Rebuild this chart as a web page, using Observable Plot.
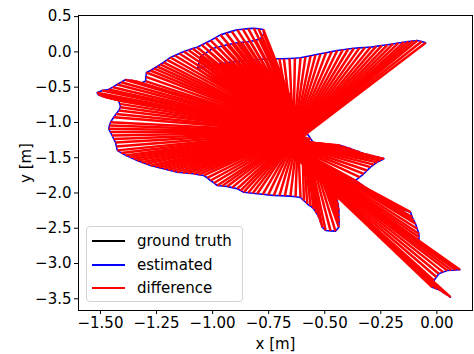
<!DOCTYPE html>
<html><head><meta charset="utf-8">
<script src="https://cdn.jsdelivr.net/npm/d3@7"></script>
<script src="https://cdn.jsdelivr.net/npm/@observablehq/plot@0.6"></script>
<style>
body{margin:0;background:#fff;}
#wrap{position:relative;width:474px;height:354px;font-family:"DejaVu Sans",sans-serif;}
#legend{position:absolute;left:86px;top:226px;width:157px;height:76px;border:1px solid #d4d4d4;border-radius:4px;background:rgba(255,255,255,0.8);box-sizing:border-box;font-size:15px;color:#000;}
.item{position:absolute;left:5px;height:20px;display:flex;align-items:center;white-space:nowrap;}
.sw{width:33px;height:0;border-top:2px solid;margin-right:12px;}
</style></head><body><div id="wrap"></div>
<script>
const x_ticks = [-1.5, -1.25, -1.0, -0.75, -0.5, -0.25, 0.0];
const y_ticks = [0.5, 0.0, -0.5, -1.0, -1.5, -2.0, -2.5, -3.0, -3.5];
const series_names = ["ground truth", "estimated", "difference"];
const series_colors = ["black", "blue", "red"];

// estimated trajectory, by stretch
const estA_x = [-0.050,-0.068,-0.087,-0.107,-0.127,-0.147,-0.172,-0.196,-0.221,-0.246,-0.271,-0.296,-0.321,-0.345,-0.370,-0.395,-0.419,-0.444,-0.469,-0.494,-0.519,-0.541,-0.563,-0.586,-0.608,-0.633,-0.657,-0.682,-0.702,-0.722,-0.742,-0.763,-0.783,-0.804,-0.825,-0.846,-0.871,-0.895,-0.920,-0.942,-0.964,-0.987,-1.009,-1.028,-1.048,-1.067];
const estA_y = [0.129,0.148,0.162,0.155,0.146,0.137,0.125,0.113,0.101,0.090,0.078,0.067,0.062,0.057,0.052,0.041,0.031,0.020,0.004,-0.011,-0.027,-0.041,-0.055,-0.070,-0.084,-0.089,-0.093,-0.098,-0.098,-0.098,-0.098,-0.101,-0.105,-0.108,-0.115,-0.122,-0.130,-0.138,-0.146,-0.158,-0.170,-0.181,-0.193,-0.207,-0.221,-0.235];
const estB_x = [-1.063,-1.058,-1.054,-1.036,-1.018,-1.000,-0.978,-0.957,-0.935,-0.912,-0.890,-0.870,-0.850,-0.831,-0.808,-0.786,-0.772,-0.774,-0.795,-0.816,-0.841,-0.865,-0.890,-0.915,-0.940,-0.965,-0.987,-1.009,-1.029,-1.049,-1.069,-1.089,-1.108,-1.128,-1.148,-1.168,-1.188,-1.203,-1.219,-1.233,-1.247,-1.262,-1.277,-1.295];
const estB_y = [-0.178,-0.121,-0.065,-0.027,0.010,0.048,0.066,0.083,0.101,0.115,0.129,0.135,0.141,0.147,0.167,0.186,0.257,0.318,0.329,0.336,0.330,0.322,0.313,0.291,0.266,0.242,0.202,0.162,0.130,0.099,0.067,0.047,0.026,0.006,-0.022,-0.051,-0.079,-0.114,-0.150,-0.178,-0.207,-0.235,-0.264,-0.292];
const estC_x = [-1.297,-1.299,-1.322,-1.344,-1.366,-1.389,-1.408,-1.426,-1.445,-1.464,-1.492,-1.515,-1.509,-1.494,-1.478,-1.458,-1.439,-1.420,-1.414,-1.411,-1.418,-1.430,-1.441,-1.455,-1.460,-1.463,-1.456,-1.448,-1.441,-1.433,-1.429,-1.425,-1.407,-1.388,-1.370,-1.353,-1.336,-1.316,-1.297,-1.277,-1.257,-1.238,-1.218,-1.198,-1.178,-1.158,-1.133,-1.109,-1.084,-1.062,-1.039,-1.024,-1.009,-0.994,-0.979,-0.957,-0.935,-0.913,-0.890,-0.875,-0.861,-0.841,-0.821,-0.801,-0.776,-0.752,-0.727,-0.702,-0.678,-0.653,-0.630,-0.608];
const estC_y = [-0.354,-0.415,-0.444,-0.415,-0.402,-0.395,-0.431,-0.462,-0.500,-0.533,-0.547,-0.580,-0.608,-0.626,-0.642,-0.657,-0.673,-0.689,-0.737,-0.784,-0.831,-0.879,-0.926,-0.996,-1.043,-1.090,-1.137,-1.185,-1.234,-1.284,-1.340,-1.396,-1.432,-1.467,-1.490,-1.515,-1.539,-1.563,-1.587,-1.610,-1.626,-1.641,-1.657,-1.673,-1.689,-1.705,-1.713,-1.720,-1.728,-1.740,-1.752,-1.787,-1.823,-1.858,-1.894,-1.901,-1.908,-1.924,-1.940,-1.965,-1.989,-1.996,-2.004,-2.011,-2.019,-2.027,-2.035,-2.038,-2.041,-2.045,-2.054,-2.064];
const estD_x = [-0.593,-0.578,-0.563,-0.549,-0.537,-0.526,-0.518,-0.511,-0.496,-0.474,-0.452,-0.437,-0.436,-0.437,-0.437,-0.440,-0.444,-0.459];
const estD_y = [-2.108,-2.153,-2.188,-2.224,-2.283,-2.343,-2.414,-2.485,-2.532,-2.537,-2.541,-2.485,-2.406,-2.327,-2.248,-2.177,-2.106,-2.035];
const estE_x = [-0.578,-0.563,-0.549,-0.526,-0.504,-0.479,-0.455,-0.430,-0.407,-0.385,-0.365,-0.345,-0.326,-0.303,-0.281,-0.258,-0.236,-0.251,-0.266,-0.281,-0.296,-0.311,-0.326,-0.344,-0.363];
const estE_y = [-1.161,-1.232,-1.294,-1.304,-1.313,-1.318,-1.322,-1.327,-1.350,-1.373,-1.397,-1.420,-1.444,-1.462,-1.480,-1.497,-1.515,-1.539,-1.563,-1.598,-1.634,-1.681,-1.728,-1.775,-1.823];
const estF_x = [-0.345,-0.328,-0.310,-0.292,-0.274,-0.257,-0.239,-0.221,-0.201,-0.182,-0.162,-0.140,-0.117,-0.110,-0.103,-0.095,-0.088,-0.080,-0.080,-0.080,-0.062,-0.043,-0.023,-0.003,0.017,0.037,0.056,0.076,0.090,0.103,0.084,0.065,0.046,0.028,0.009,-0.002,-0.013,-0.017,-0.021,-0.002,0.017,0.032,0.046,0.061];
const estF_y = [-1.862,-1.901,-1.940,-1.983,-2.025,-2.068,-2.110,-2.153,-2.177,-2.201,-2.224,-2.248,-2.272,-2.343,-2.390,-2.437,-2.508,-2.578,-2.625,-2.673,-2.732,-2.791,-2.838,-2.885,-2.933,-2.973,-3.012,-3.052,-3.070,-3.089,-3.092,-3.096,-3.099,-3.122,-3.145,-3.192,-3.240,-3.288,-3.335,-3.358,-3.382,-3.414,-3.445,-3.477];

// ground truth (hidden under the difference lines, estimated from where they meet)
const gtA_x = [-0.665,-0.664,-0.663,-0.662,-0.661,-0.660,-0.659,-0.658,-0.657,-0.656,-0.655,-0.654,-0.653,-0.652,-0.651,-0.650,-0.649,-0.648,-0.647,-0.646,-0.645,-0.644,-0.643,-0.642,-0.641,-0.640,-0.639,-0.638,-0.637,-0.636,-0.635,-0.634,-0.633,-0.632,-0.631,-0.630,-0.629,-0.628,-0.627,-0.626,-0.625,-0.624,-0.623,-0.622,-0.621,-0.620];
const gtA_y = [-1.360,-1.357,-1.354,-1.351,-1.348,-1.345,-1.342,-1.339,-1.336,-1.333,-1.330,-1.327,-1.324,-1.321,-1.318,-1.315,-1.312,-1.309,-1.306,-1.303,-1.300,-1.297,-1.294,-1.291,-1.288,-1.285,-1.282,-1.279,-1.276,-1.273,-1.270,-1.267,-1.264,-1.261,-1.258,-1.255,-1.252,-1.249,-1.246,-1.243,-1.240,-1.237,-1.234,-1.231,-1.228,-1.225];
const gtB_x = [-0.615,-0.614,-0.613,-0.612,-0.611,-0.610,-0.609,-0.608,-0.607,-0.606,-0.605,-0.604,-0.603,-0.602,-0.601,-0.600,-0.600,-0.600,-0.601,-0.602,-0.603,-0.604,-0.605,-0.606,-0.607,-0.608,-0.609,-0.610,-0.611,-0.612,-0.613,-0.614,-0.615,-0.616,-0.617,-0.618,-0.619,-0.620,-0.621,-0.622,-0.623,-0.624,-0.625,-0.625];
const gtB_y = [-1.220,-1.210,-1.200,-1.190,-1.180,-1.170,-1.160,-1.150,-1.140,-1.130,-1.120,-1.110,-1.100,-1.095,-1.090,-1.085,-1.080,-1.080,-1.080,-1.080,-1.080,-1.082,-1.084,-1.086,-1.088,-1.090,-1.092,-1.094,-1.096,-1.098,-1.100,-1.101,-1.102,-1.103,-1.104,-1.105,-1.106,-1.107,-1.108,-1.109,-1.110,-1.110,-1.110,-1.110];
const gtC_x = [-0.625,-0.625,-0.626,-0.626,-0.627,-0.627,-0.628,-0.628,-0.629,-0.629,-0.630,-0.630,-0.631,-0.631,-0.632,-0.632,-0.633,-0.633,-0.634,-0.634,-0.635,-0.635,-0.636,-0.636,-0.637,-0.637,-0.638,-0.638,-0.639,-0.639,-0.640,-0.640,-0.640,-0.640,-0.640,-0.640,-0.639,-0.639,-0.638,-0.638,-0.637,-0.637,-0.636,-0.635,-0.634,-0.633,-0.632,-0.631,-0.630,-0.630,-0.629,-0.629,-0.628,-0.628,-0.627,-0.627,-0.626,-0.626,-0.625,-0.625,-0.624,-0.624,-0.623,-0.623,-0.622,-0.622,-0.621,-0.621,-0.620,-0.620,-0.620,-0.620];
const gtC_y = [-1.110,-1.111,-1.112,-1.113,-1.114,-1.115,-1.116,-1.117,-1.118,-1.119,-1.120,-1.121,-1.122,-1.123,-1.124,-1.125,-1.126,-1.127,-1.128,-1.129,-1.130,-1.131,-1.132,-1.133,-1.134,-1.135,-1.136,-1.137,-1.138,-1.139,-1.140,-1.141,-1.142,-1.143,-1.144,-1.145,-1.146,-1.147,-1.148,-1.149,-1.150,-1.151,-1.152,-1.153,-1.154,-1.155,-1.156,-1.157,-1.158,-1.159,-1.160,-1.161,-1.162,-1.163,-1.164,-1.165,-1.166,-1.167,-1.168,-1.169,-1.170,-1.171,-1.172,-1.173,-1.174,-1.175,-1.176,-1.177,-1.178,-1.179,-1.180,-1.181];
const gtD_x = [-0.600,-0.598,-0.596,-0.594,-0.592,-0.590,-0.588,-0.586,-0.584,-0.582,-0.580,-0.579,-0.578,-0.577,-0.576,-0.575,-0.575,-0.575];
const gtD_y = [-1.190,-1.193,-1.196,-1.199,-1.202,-1.205,-1.208,-1.211,-1.214,-1.217,-1.220,-1.223,-1.226,-1.229,-1.232,-1.235,-1.238,-1.240];
const gtE_x = [-0.635,-0.636,-0.637,-0.638,-0.639,-0.640,-0.641,-0.642,-0.643,-0.644,-0.645,-0.646,-0.647,-0.648,-0.649,-0.650,-0.651,-0.652,-0.653,-0.654,-0.655,-0.655,-0.655,-0.655,-0.655];
const gtE_y = [-1.240,-1.243,-1.246,-1.250,-1.253,-1.256,-1.260,-1.263,-1.266,-1.270,-1.273,-1.276,-1.280,-1.283,-1.286,-1.290,-1.293,-1.296,-1.300,-1.303,-1.306,-1.310,-1.313,-1.316,-1.320];
const gtF_x = [-0.655,-0.655,-0.655,-0.655,-0.656,-0.656,-0.657,-0.657,-0.658,-0.658,-0.659,-0.659,-0.660,-0.660,-0.661,-0.661,-0.662,-0.662,-0.663,-0.663,-0.664,-0.664,-0.665,-0.665,-0.666,-0.666,-0.667,-0.667,-0.668,-0.668,-0.669,-0.669,-0.670,-0.670,-0.670,-0.670,-0.670,-0.670,-0.670,-0.670,-0.670,-0.670,-0.670,-0.670];
const gtF_y = [-1.330,-1.331,-1.332,-1.333,-1.334,-1.335,-1.336,-1.337,-1.338,-1.339,-1.340,-1.341,-1.342,-1.343,-1.344,-1.345,-1.346,-1.347,-1.348,-1.349,-1.350,-1.351,-1.352,-1.353,-1.354,-1.355,-1.356,-1.357,-1.358,-1.359,-1.360,-1.361,-1.362,-1.363,-1.364,-1.365,-1.366,-1.367,-1.368,-1.369,-1.370,-1.370,-1.370,-1.370];

// recording pieces (the trajectory is drawn as two pieces)
const piece_of_stretch = [0, 0, 0, 0, 1, 1];

const estX = [estA_x, estB_x, estC_x, estD_x, estE_x, estF_x];
const estY = [estA_y, estB_y, estC_y, estD_y, estE_y, estF_y];
const gtX = [gtA_x, gtB_x, gtC_x, gtD_x, gtE_x, gtF_x];
const gtY = [gtA_y, gtB_y, gtC_y, gtD_y, gtE_y, gtF_y];

const est = [], gt = [], diff = [];
estX.forEach((xs, s) => {
  const m = Math.min(xs.length, estY[s].length, gtX[s].length, gtY[s].length);
  for (let i = 0; i < m; i++) {
    est.push({x: xs[i], y: estY[s][i], piece: piece_of_stretch[s]});
    gt.push({x: gtX[s][i], y: gtY[s][i], piece: piece_of_stretch[s]});
    diff.push({x1: xs[i], y1: estY[s][i], x2: gtX[s][i], y2: gtY[s][i]});
  }
});

const chart = Plot.plot({
  width: 474, height: 354,
  marginLeft: 78, marginRight: 2, marginTop: 15, marginBottom: 44,
  style: {fontFamily: "DejaVu Sans, sans-serif", fontSize: "15px", color: "#000", background: "#fff", overflow: "visible"},
  x: {domain: [-1.598, 0.159]},
  y: {domain: [-3.666, 0.516]},
  marks: [
    Plot.line(gt, {x: "x", y: "y", z: "piece", stroke: series_colors[0], strokeWidth: 1.5}),
    Plot.line(est, {x: "x", y: "y", z: "piece", stroke: series_colors[1], strokeWidth: 1.6}),
    Plot.link(diff, {x1: "x1", y1: "y1", x2: "x2", y2: "y2", stroke: series_colors[2], strokeWidth: 2.5}),
    Plot.frame({stroke: "#000", strokeWidth: 1}),
    Plot.axisX({ticks: x_ticks, tickFormat: d3.format(".2f"), tickSize: 4, tickPadding: 3, fontSize: 15,
      label: "x [m]", labelAnchor: "center", labelArrow: "none", labelOffset: 38}),
    Plot.axisY({ticks: y_ticks, tickFormat: d3.format(".1f"), tickSize: 4, tickPadding: 3, fontSize: 15,
      label: "y [m]", labelAnchor: "center", labelArrow: "none", labelOffset: 58})
  ]
});
const wrap = document.getElementById("wrap");
wrap.appendChild(chart);
const leg = document.createElement("div");
leg.id = "legend";
series_names.forEach((name, i) => {
  const it = document.createElement("div");
  it.className = "item";
  it.style.top = (4 + i * 23.5) + "px";
  const sw = document.createElement("span");
  sw.className = "sw";
  sw.style.borderColor = series_colors[i];
  const t = document.createElement("span");
  t.textContent = name;
  it.appendChild(sw); it.appendChild(t);
  leg.appendChild(it);
});
wrap.appendChild(leg);
</script></body></html>
